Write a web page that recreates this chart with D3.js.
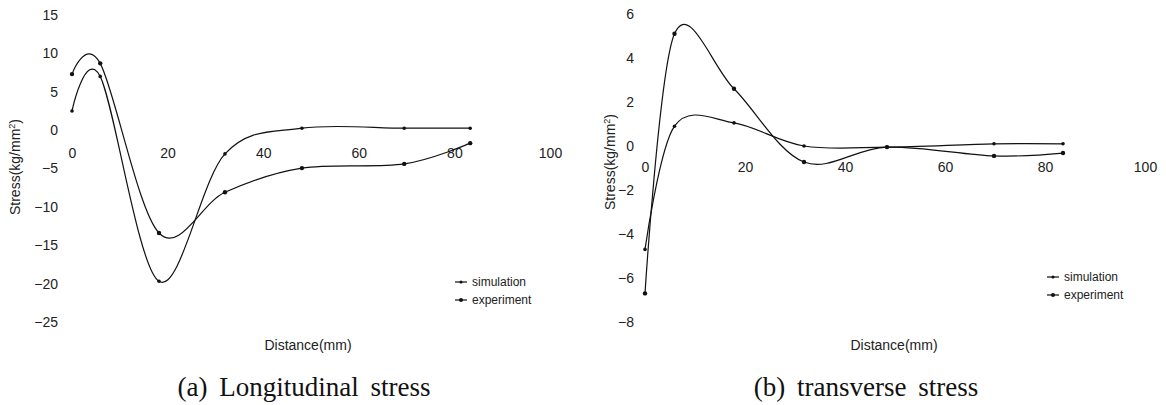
<!DOCTYPE html>
<html>
<head>
<meta charset="utf-8">
<script src="https://cdn.jsdelivr.net/npm/d3@7"></script>
<style>
  body { margin: 0; background: #fff; }
  svg { display: block; }
  .tick text { font-family: "Liberation Sans", Arial, sans-serif; font-size: 14px; fill: #222; }
  .axisTitle { font-family: "Liberation Sans", Arial, sans-serif; font-size: 14px; fill: #222; }
  .legendText { font-family: "Liberation Sans", Arial, sans-serif; font-size: 12px; fill: #222; }
  .caption { font-family: "Liberation Serif", "Times New Roman", serif; font-size: 27px; fill: #111; word-spacing: 5px; }
</style>
</head>
<body>
<div id="chart"></div>
<script>
// Data
// (a) longitudinal stress
var distA = [0, 5.9, 18.2, 32, 48.1, 69.5, 83.3];
var longSim = [2.5, 7.0, -19.7, -3.1, 0.25, 0.25, 0.25];
var longExp = [7.3, 8.7, -13.4, -8.1, -4.95, -4.4, -1.7];
// (b) transverse stress
var distB = [0, 5.9, 17.8, 31.8, 48.4, 69.8, 83.6];
var transSim = [-4.7, 0.9, 1.05, 0.0, -0.05, 0.1, 0.1];
var transExp = [-6.7, 5.1, 2.6, -0.73, -0.05, -0.45, -0.32];

var seriesNames = ["simulation", "experiment"];
var xTicks = [0, 20, 40, 60, 80, 100];
var longTicks = [15, 10, 5, 0, -5, -10, -15, -20, -25];
var transTicks = [6, 4, 2, 0, -2, -4, -6, -8];

var svg = d3.select("#chart")
    .append("svg")
    .attr("width", 1166)
    .attr("height", 405);

function drawPanel(p) {
    var g = svg.append("g");

    var x = d3.scaleLinear().domain([0, 100]).range(p.xRange);
    var y = d3.scaleLinear().domain(p.yDomain).range(p.yRange);

    // y axis: labels only, no line
    var yAxis = g.append("g")
        .attr("transform", `translate(${p.yLabelX + 3}, 0)`)
        .call(d3.axisLeft(y).tickValues(p.yTicks).tickSize(0).tickPadding(3));
    yAxis.select(".domain").remove();

    // x axis: labels only, sitting just under y = 0
    var xAxis = g.append("g")
        .attr("transform", `translate(0, ${p.xLabelY - 8})`)
        .call(d3.axisBottom(x).tickValues(xTicks).tickSize(0).tickPadding(3));
    xAxis.select(".domain").remove();

    // axis titles
    g.append("text")
        .attr("class", "axisTitle")
        .attr("transform", `translate(${p.titleX}, ${p.titleY}) rotate(-90)`)
        .attr("text-anchor", "middle")
        .attr("dy", "0.35em")
        .html("Stress(kg/mm<tspan dy='-5' font-size='9px'>2</tspan><tspan dy='5'>)</tspan>");

    g.append("text")
        .attr("class", "axisTitle")
        .attr("x", p.distX)
        .attr("y", 350)
        .attr("text-anchor", "middle")
        .text("Distance(mm)");

    // curves
    var line = d3.line()
        .x(d => x(d[0]))
        .y(d => y(d[1]))
        .curve(d3.curveCardinal.tension(0));

    p.series.forEach(function (vals, i) {
        var pts = p.dist.map((d, j) => [d, vals[j]]);
        g.append("path")
            .datum(pts)
            .attr("fill", "none")
            .attr("stroke", "#111")
            .attr("stroke-width", 1.2)
            .attr("d", line);

        g.append("g")
            .selectAll("circle")
            .data(pts)
            .enter()
            .append("circle")
            .attr("cx", d => x(d[0]))
            .attr("cy", d => y(d[1]))
            .attr("r", i === 1 ? 2.2 : 1.8)
            .attr("fill", "#111");
    });

    // legend
    seriesNames.forEach(function (name, i) {
        var ly = p.legendY + i * 18;
        g.append("line")
            .attr("x1", p.legendX).attr("x2", p.legendX + 12)
            .attr("y1", ly).attr("y2", ly)
            .attr("stroke", "#111").attr("stroke-width", 1.2);
        g.append("circle")
            .attr("cx", p.legendX + 6).attr("cy", ly)
            .attr("r", i === 1 ? 2 : 1.6)
            .attr("fill", "#111");
        g.append("text")
            .attr("class", "legendText")
            .attr("x", p.legendX + 17)
            .attr("y", ly)
            .attr("dy", "0.35em")
            .text(name);
    });

    g.append("text")
        .attr("class", "caption")
        .attr("x", p.captionX)
        .attr("y", 396)
        .attr("text-anchor", "middle")
        .text(p.caption);
}

drawPanel({
    xRange: [72, 550],
    yDomain: [-25, 15],
    yRange: [322, 15],
    yTicks: longTicks,
    yLabelX: 58,
    xLabelY: 153,
    titleX: 15,
    titleY: 167,
    distX: 308,
    dist: distA,
    series: [longSim, longExp],
    legendX: 455,
    legendY: 282,
    captionX: 304,
    caption: "(a) Longitudinal stress"
});

drawPanel({
    xRange: [645, 1145],
    yDomain: [-8, 6],
    yRange: [322, 14],
    yTicks: transTicks,
    yLabelX: 634,
    xLabelY: 167,
    titleX: 610,
    titleY: 162,
    distX: 894,
    dist: distB,
    series: [transSim, transExp],
    legendX: 1047,
    legendY: 277,
    captionX: 866,
    caption: "(b) transverse stress"
});
</script>
</body>
</html>
